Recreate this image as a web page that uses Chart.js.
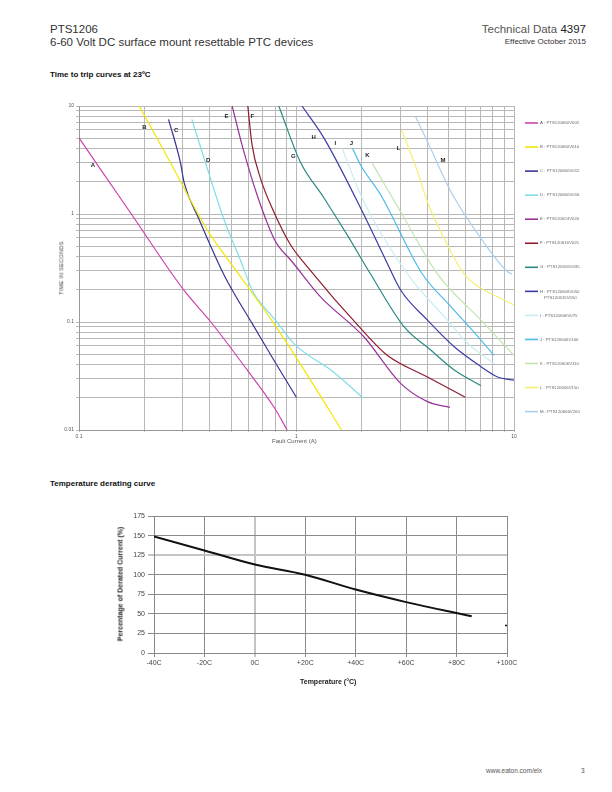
<!DOCTYPE html>
<html><head><meta charset="utf-8">
<script src="https://cdn.jsdelivr.net/npm/chart.js@4.4.1/dist/chart.umd.min.js"></script>
<style>
body{margin:0;width:612px;height:792px;position:relative;background:#fff;font-family:"Liberation Sans",Arial,sans-serif;color:#333;overflow:hidden}
.t{position:absolute;white-space:nowrap;line-height:1}
.rot{position:absolute;white-space:nowrap;line-height:1;transform:translate(-50%,-50%) rotate(-90deg)}
</style></head><body>
<div class="t" style="left:50px;top:24px;font-size:11.5px;color:#333">PTS1206</div>
<div class="t" style="left:50px;top:37px;font-size:11.5px;color:#333">6-60 Volt DC surface mount resettable PTC devices</div>
<div class="t" style="right:26px;top:24px;font-size:11.5px;color:#555">Technical Data <span style="color:#222">4397</span></div>
<div class="t" style="right:26px;top:38px;font-size:8px;color:#333">Effective October 2015</div>
<div class="t" style="left:50px;top:71px;font-size:8px;font-weight:bold;color:#111">Time to trip curves at 23ºC</div>
<div class="t" style="left:50px;top:480px;font-size:8px;font-weight:bold;color:#111">Temperature derating curve</div>
<div class="t" style="left:486px;top:768px;font-size:6.5px;color:#555">www.eaton.com/elx</div>
<div class="t" style="left:581px;top:768px;font-size:6.5px;color:#555">3</div>

<div style="position:absolute;left:40px;top:95px;width:572px;height:360px"><canvas id="c1" width="572" height="360"></canvas></div>
<div class="rot" style="left:62px;top:268px;font-size:5.5px;color:#444;letter-spacing:0.3px">TIME IN SECONDS</div>
<div class="t" style="left:272px;top:438px;font-size:6px;color:#555">Fault Current (A)</div>

<div style="position:absolute;left:100px;top:505px;width:430px;height:190px"><canvas id="c2" width="430" height="190"></canvas></div>
<div class="rot" style="left:120px;top:584px;font-size:7px;font-weight:bold;color:#222">Percentage of Derated Current (%)</div>
<div class="t" style="left:300px;top:678px;font-size:7px;font-weight:bold;color:#222">Temperature (°C)</div>

<script>
// ---------- Time-to-trip data ----------
const seriesLetters = ['A','B','C','D','E','F','G','H','I','J','K','L','M'];
const seriesNames = ['A : PTS120660V005','B : PTS120660V010','C : PTS120660V012','D : PTS120660V016','E : PTS120624V020','F : PTS120616V025','G : PTS120616V035','H : PTS120606V050|PTS120615V050','I : PTS120606V075','J : PTS120606V100','K : PTS120606V110','L : PTS120606V150','M : PTS120606V200'];
const seriesColors = ['#cc44aa','#f2e600','#363696','#7fdde6','#98329a','#8e1c2e','#2b8a82','#3b3ba8','#c9eef2','#4bbbe8','#c2e3ac','#f5ef72','#a9d0ef'];

const curveA = [[0.1,5.06],[0.174,1.0],[0.303,0.198],[0.404,0.1],[0.593,0.036],[0.786,0.0164],[0.906,0.01]];
const curveB = [[0.189,10],[0.262,3.05],[0.348,1.05],[0.402,0.64],[0.542,0.278],[0.786,0.097],[1.16,0.029],[1.61,0.01]];
const curveC = [[0.258,7.53],[0.292,3.05],[0.305,1.92],[0.355,0.91],[0.462,0.278],[0.506,0.198],[0.625,0.097],[0.786,0.0445],[1.0,0.02]];
const curveD = [[0.33,7.53],[0.402,2.14],[0.462,0.91],[0.552,0.375],[0.635,0.185],[0.706,0.139],[0.8,0.104],[0.97,0.0635],[1.16,0.0478],[1.44,0.036],[2.01,0.02]];
const curveE = [[0.506,10],[0.562,4.35],[0.659,1.5],[0.786,0.595],[0.829,0.498],[0.94,0.375],[1.29,0.171],[2.04,0.073],[3.01,0.027],[4.0,0.0183],[5.07,0.0162]];
const curveF = [[0.597,10],[0.625,4.35],[0.683,2.14],[0.786,1.05],[0.94,0.516],[1.1,0.34],[2.04,0.081],[2.62,0.049],[4.0,0.031],[5.97,0.0201]];
const curveG = [[0.829,10],[1.04,3.05],[1.34,1.4],[1.71,0.64],[2.19,0.278],[3.12,0.0906],[4.14,0.055],[5.31,0.036],[7.05,0.0257]];
const curveH = [[1.06,10],[1.34,5.02],[2.01,1.05],[2.57,0.375],[3.01,0.198],[4.0,0.104],[5.31,0.059],[7.05,0.0386],[8.4,0.031],[10,0.029]];
const curveI = [[1.62,4.06],[2.04,1.3],[3.24,0.278],[4.94,0.104],[6.12,0.0635],[8.1,0.041]];
const curveJ = [[1.81,4.06],[1.97,2.84],[2.44,1.5],[3.79,0.278],[5.13,0.139],[7.05,0.068],[8.1,0.049]];
const curveK = [[2.23,2.94],[3.01,1.05],[4.45,0.278],[7.05,0.104],[10,0.049]];
const curveL = [[3.04,6.0],[3.6,2.47],[4.0,1.3],[4.94,0.516],[5.9,0.278],[7.05,0.205],[8.4,0.171],[10,0.144]];
const curveM = [[3.53,7.96],[4.07,4.35],[5.13,1.61],[7.05,0.595],[9.35,0.292],[9.8,0.278]];
const curves = [curveA,curveB,curveC,curveD,curveE,curveF,curveG,curveH,curveI,curveJ,curveK,curveL,curveM];

// letter annotation anchors (current A, time s)
const letterX = [0.116,0.2,0.28,0.393,0.476,0.627,0.968,1.2,1.51,1.79,2.12,2.95,4.71];
const letterY = [2.84,6.4,5.9,3.16,8.1,8.1,3.44,5.16,4.54,4.54,3.52,4.08,3.16];

const xGridValues = [0.1,0.2,0.3,0.4,0.5,0.6,0.7,0.8,0.9,1,2,3,4,5,6,7,8,9,10];
const yGridValues = [0.01,0.02,0.03,0.04,0.05,0.06,0.07,0.08,0.09,0.1,0.2,0.3,0.4,0.5,0.6,0.7,0.8,0.9,1,2,3,4,5,6,7,8,9,10];
const xTickValues = [0.1,1,10];
const xTickLabels = ['0.1','1','10'];
const yTickValues = [0.01,0.1,1,10];
const yTickLabels = ['0.01','0.1','1','10'];

// ---------- Derating data ----------
const tempC = [-40,-20,0,20,40,60,80,86];
const deratePct = [149,131,113,100,81,65,51,47];
const tempTickValues = [-40,-20,0,20,40,60,80,100];
const tempTickLabels = ['-40C','-20C','0C','+20C','+40C','+60C','+80C','+100C'];
const pctTickValues = [0,25,50,75,100,125,150,175];
const strayMark = [[100,35]];

function labelFor(v, vals, labels){
  for(let i=0;i<vals.length;i++){ if(Math.abs(v-vals[i]) <= Math.abs(vals[i])*1e-6 + 1e-9) return labels[i]; }
  return '';
}

const letterPlugin = {
  id:'letters',
  afterDatasetsDraw(chart){
    const {ctx, scales:{x,y}} = chart;
    ctx.save();
    ctx.font = 'bold 6px "Liberation Sans", Arial, sans-serif';
    ctx.fillStyle = '#222'; ctx.textAlign='center'; ctx.textBaseline='middle';
    seriesLetters.forEach((l,i)=>ctx.fillText(l, x.getPixelForValue(letterX[i]), y.getPixelForValue(letterY[i])));
    ctx.restore();
  }
};

const sideLegendPlugin = {
  id:'sideLegend',
  afterDraw(chart){
    const {ctx, chartArea} = chart;
    const x0 = chartArea.right + 11;
    const y0 = 28, step = 24.05;
    ctx.save();
    ctx.font = '4.3px "Liberation Sans", Arial, sans-serif';
    ctx.textBaseline = 'middle'; ctx.textAlign = 'left';
    seriesNames.forEach((n,i)=>{
      const yy = y0 + i*step;
      ctx.strokeStyle = seriesColors[i]; ctx.lineWidth = 1.6;
      ctx.beginPath(); ctx.moveTo(x0, yy); ctx.lineTo(x0+13, yy); ctx.stroke();
      ctx.fillStyle = '#666';
      n.split('|').forEach((part,k)=>ctx.fillText(part, x0 + 15 + (k?4:0), yy + k*6));
    });
    ctx.restore();
  }
};

new Chart(document.getElementById('c1'), {
  type:'line',
  data:{ datasets: curves.map((c,i)=>({
    label: seriesNames[i],
    data: c.map(p=>({x:p[0], y:p[1]})),
    borderColor: seriesColors[i], backgroundColor: seriesColors[i],
    borderWidth: 1.2, pointRadius:0, cubicInterpolationMode:'monotone', fill:false
  }))},
  options:{
    responsive:false, animation:false, events:[],
    layout:{padding:{left:0,right:98,top:11,bottom:0}},
    plugins:{legend:{display:false}, tooltip:{enabled:false}},
    scales:{
      x:{type:'logarithmic', min:0.1, max:10,
        afterBuildTicks:s=>{s.ticks = xGridValues.map(v=>({value:v}));},
        afterFit:s=>{s.height=25;},
        ticks:{autoSkip:false, maxRotation:0, minRotation:0, font:{size:5, family:'"Liberation Sans", Arial'}, color:'#555', padding:2,
          callback:(v)=>labelFor(v,xTickValues,xTickLabels)},
        grid:{color:'#b8b8b8', lineWidth:1, tickLength:2},
        border:{color:'#999'}
      },
      y:{type:'logarithmic', min:0.01, max:10,
        afterBuildTicks:s=>{s.ticks = yGridValues.map(v=>({value:v}));},
        afterFit:s=>{s.width=39;},
        ticks:{autoSkip:false, font:{size:5, family:'"Liberation Sans", Arial'}, color:'#555', padding:2,
          callback:(v)=>labelFor(v,yTickValues,yTickLabels)},
        grid:{color:'#b8b8b8', lineWidth:1, tickLength:3},
        border:{color:'#999'}
      }
    }
  },
  plugins:[letterPlugin, sideLegendPlugin]
});

new Chart(document.getElementById('c2'), {
  type:'line',
  data:{ datasets:[
    { data: tempC.map((t,i)=>({x:t, y:deratePct[i]})), borderColor:'#111', borderWidth:2, pointRadius:0, cubicInterpolationMode:'monotone', fill:false },
    { data: strayMark.map(p=>({x:p[0], y:p[1]})), borderColor:'#111', pointStyle:'line', pointRadius:2, pointBorderWidth:1.5, showLine:false }
  ]},
  options:{
    responsive:false, animation:false, events:[],
    layout:{padding:{left:0,right:23,top:11,bottom:0}},
    plugins:{legend:{display:false}, tooltip:{enabled:false}},
    scales:{
      x:{type:'linear', min:-40, max:100,
        afterBuildTicks:s=>{s.ticks = tempTickValues.map(v=>({value:v}));},
        afterFit:s=>{s.height=42;},
        ticks:{autoSkip:false, maxRotation:0, font:{size:7, family:'"Liberation Sans", Arial'}, color:'#444', padding:2,
          callback:(v)=>labelFor(v,tempTickValues,tempTickLabels)},
        grid:{color:(c)=> c.tick && c.tick.value===0 ? '#c4c4c4' : '#8a8a8a', lineWidth:(c)=> c.tick && c.tick.value===0 ? 2 : 1, tickLength:4},
        border:{color:'#888'}
      },
      y:{type:'linear', min:0, max:175,
        afterBuildTicks:s=>{s.ticks = pctTickValues.map(v=>({value:v}));},
        afterFit:s=>{s.width=54;},
        ticks:{autoSkip:false, font:{size:7, family:'"Liberation Sans", Arial'}, color:'#444', padding:3},
        grid:{color:(c)=> c.tick && c.tick.value===125 ? '#c4c4c4' : '#8a8a8a', lineWidth:(c)=> c.tick && c.tick.value===125 ? 2 : 1, tickLength:6},
        border:{color:'#888'}
      }
    }
  }
});
</script>
</body></html>
